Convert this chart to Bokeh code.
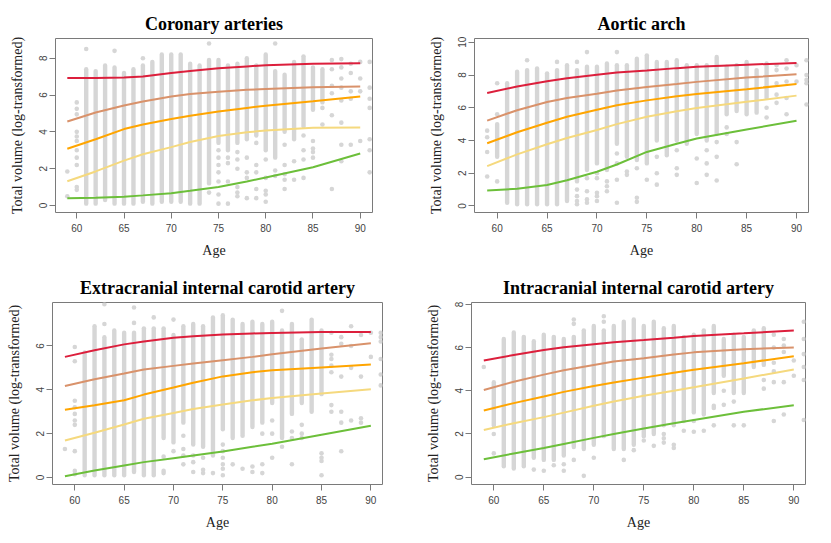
from bokeh.plotting import figure
from bokeh.layouts import column, row
from bokeh.models import FixedTicker, Range1d
from bokeh.embed import file_html
from bokeh.resources import INLINE

# ---------------- data ----------------
CURVE_AGES = [59, 62, 65, 67, 70, 72, 75, 78, 80, 85, 90]
X_TICKS = [60, 65, 70, 75, 80, 85, 90]
CURVE_COLORS = ["#dc1f3c", "#d9926b", "#ffa500", "#f5d97e", "#6cbf3a"]
POINT_COLOR = "#d6d6d6"

# Coronary arteries
COR_CURVES = [
    [6.92, 6.92, 6.95, 7.00, 7.20, 7.30, 7.45, 7.55, 7.62, 7.70, 7.73],
    [4.56, 5.05, 5.43, 5.65, 5.92, 6.05, 6.18, 6.28, 6.33, 6.42, 6.46],
    [3.08, 3.60, 4.15, 4.40, 4.70, 4.88, 5.10, 5.30, 5.42, 5.66, 5.92],
    [1.32, 1.85, 2.44, 2.78, 3.17, 3.45, 3.78, 3.98, 4.07, 4.22, 4.23],
    [0.40, 0.42, 0.48, 0.55, 0.67, 0.80, 1.00, 1.30, 1.52, 2.08, 2.82],
]
COR_SEG = [(61, 0.1, 7.4), (62, 0.1, 7.3), (63, 0.3, 7.6), (64, 0.1, 7.5), (65, 0.1, 7.2),
           (66, 0.1, 7.4), (67, 0.2, 7.6), (68, 0.1, 7.8), (69, 0.2, 8.2), (70, 0.2, 8.2),
           (71, 0.2, 8.2), (72, 0.1, 7.7), (73, 0.1, 7.6), (74, 1.2, 7.9), (75, 3.4, 7.9),
           (76, 3.0, 7.6), (77, 3.4, 7.7), (78, 3.6, 8.0), (79, 3.8, 7.6), (80, 3.0, 8.2),
           (81, 2.6, 7.3), (82, 4.0, 7.1), (83, 3.6, 7.8), (84, 4.3, 8.1), (85, 5.2, 7.5),
           (86, 5.6, 7.4)]
COR_PTS = [(59, [1.85, 0.5]),
           (60, [5.6, 5.25, 4.95, 4.0, 3.75, 3.5, 3.0, 2.6, 2.2, 1.0, 0.85]),
           (61, [8.5]), (64, [8.4]), (67, [8.0]), (74, [8.8, 0.7]),
           (75, [3.0, 2.6, 2.2, 1.8, 1.3, 0.6, 0.1]), (76, [2.6, 2.3, 1.3, 0.1]),
           (77, [2.9, 2.5, 2.0, 1.0, 0.7, 0.5]), (78, [2.6, 1.8, 1.5, 0.4]),
           (79, [3.4, 2.2, 1.8, 0.9, 0.4]), (80, [2.5, 1.5, 0.8, 0.6, 0.2]),
           (81, [8.8, 1.9, 1.6]), (82, [3.3, 2.2, 1.7, 1.4, 0.9]), (83, [2.4, 1.4]),
           (84, [3.8, 3.0, 2.5, 1.5]), (85, [3.5, 3.1, 2.9, 2.6]), (86, [5.3, 4.4]),
           (87, [7.9, 7.4, 6.5, 6.1, 4.9, 0.9]), (88, [7.95, 7.5, 6.9, 6.4, 5.7, 4.5, 3.3, 2.4]),
           (89, [7.7, 7.2, 6.2, 5.8, 3.3]), (90, [7.8, 6.9, 6.2, 3.5]),
           (91, [7.8, 6.4, 5.8, 5.3, 3.6, 3.0, 1.8])]

# Aortic arch
AOR_CURVES = [
    [6.90, 7.30, 7.62, 7.80, 8.02, 8.15, 8.28, 8.42, 8.50, 8.63, 8.74],
    [5.21, 5.85, 6.35, 6.60, 6.85, 7.05, 7.26, 7.45, 7.58, 7.84, 8.04],
    [3.83, 4.50, 5.08, 5.45, 5.88, 6.15, 6.45, 6.70, 6.84, 7.13, 7.45],
    [2.43, 3.15, 3.77, 4.15, 4.64, 5.00, 5.45, 5.78, 5.98, 6.36, 6.74],
    [0.94, 1.05, 1.28, 1.57, 2.09, 2.53, 3.30, 3.80, 4.12, 4.67, 5.21],
]
AOR_SEG = [(60, 3.0, 5.0), (61, 0.2, 7.5), (62, 0.1, 8.2), (63, 0.1, 8.3), (64, 0.1, 8.4),
           (65, 0.1, 8.1), (66, 0.1, 8.3), (67, 0.3, 8.6), (68, 1.5, 8.3), (69, 2.2, 8.5),
           (70, 2.6, 8.5), (71, 2.2, 8.7), (72, 3.8, 8.6), (73, 3.0, 8.6), (74, 2.8, 9.0),
           (75, 2.6, 9.2), (76, 4.0, 8.8), (77, 3.1, 8.8), (78, 4.0, 8.9), (79, 3.8, 8.6),
           (80, 4.4, 8.6), (81, 4.0, 8.6), (82, 4.4, 9.1), (83, 5.6, 8.5), (84, 5.8, 8.6),
           (85, 5.6, 8.8), (86, 5.7, 8.3), (87, 6.6, 8.7)]
AOR_PTS = [(59, [4.6, 4.2, 3.3, 1.8]), (60, [7.5, 5.6, 1.5]), (63, [8.9]), (66, [8.8]),
           (68, [8.8, 1.0, 0.6, 0.3, 0.1]), (69, [9.4, 1.7, 0.9, 0.4, 0.2]),
           (70, [2.0, 1.7, 0.8, 0.6, 0.3]), (71, [1.5, 1.2, 0.9]),
           (72, [9.4, 3.2, 2.6, 1.6, 0.2]), (73, [2.1, 1.9]), (74, [2.3, 0.5, 0.25]),
           (75, [1.6]), (76, [3.0, 2.0, 1.3]), (78, [3.4, 2.3, 1.9]), (80, [2.9, 1.4]),
           (81, [3.4, 2.6, 1.9]), (82, [3.9, 3.0, 1.55]), (83, [4.8, 4.4]), (84, [3.9, 2.55]),
           (87, [6.0, 5.4]), (88, [8.6, 8.3, 7.5, 6.8, 6.3]), (89, [8.9, 8.4, 7.6, 6.6, 5.6]),
           (90, [8.6, 7.6]), (91, [8.9, 8.0, 7.7, 7.5, 6.2])]

# Extracranial internal carotid artery
EXT_CURVES = [
    [5.50, 5.80, 6.07, 6.20, 6.37, 6.44, 6.52, 6.57, 6.59, 6.64, 6.64],
    [4.17, 4.48, 4.74, 4.92, 5.09, 5.20, 5.35, 5.50, 5.62, 5.88, 6.12],
    [3.09, 3.29, 3.52, 3.78, 4.10, 4.32, 4.61, 4.80, 4.89, 5.02, 5.15],
    [1.69, 2.04, 2.42, 2.68, 2.94, 3.12, 3.33, 3.52, 3.62, 3.83, 4.02],
    [0.06, 0.32, 0.55, 0.70, 0.88, 1.00, 1.19, 1.40, 1.54, 1.95, 2.36],
]
EXT_SEG = [(61, 0.1, 5.7), (62, 0.1, 6.9), (63, 0.1, 6.4), (64, 0.1, 6.7), (65, 0.1, 6.6),
           (66, 0.25, 6.6), (67, 0.1, 6.8), (68, 0.1, 6.8), (69, 1.8, 6.8), (70, 1.6, 6.5),
           (71, 2.5, 6.9), (72, 1.5, 7.0), (73, 1.4, 6.9), (74, 1.0, 7.3), (75, 2.2, 7.4),
           (76, 1.8, 7.2), (77, 2.0, 7.0), (78, 2.3, 7.1), (79, 2.5, 7.0), (80, 3.4, 7.1),
           (81, 1.8, 6.7), (82, 2.9, 7.0), (83, 3.4, 6.3), (84, 3.0, 7.2), (85, 3.8, 6.7)]
EXT_PTS = [(59, [1.3]), (60, [5.95, 5.3, 3.5, 3.2, 2.9, 2.6, 2.4, 1.2, 0.3, 0.15]),
           (63, [7.9, 7.0]), (66, [7.75, 7.05]), (68, [7.3]), (69, [0.95, 0.3, 0.2]),
           (70, [7.2, 1.2]), (71, [1.9, 1.3, 1.0, 0.6]), (72, [1.0, 0.7, 0.25]),
           (73, [0.9, 0.35, 0.2]), (74, [0.2]), (75, [1.5, 1.2, 0.9, 0.6, 0.4, 0.1]),
           (76, [0.6]), (77, [1.9, 0.4]), (78, [0.5, 0.25]), (79, [2.0, 0.6, 0.2]),
           (80, [2.6, 2.0, 0.9]), (81, [7.6, 1.4]), (82, [2.1, 1.8, 0.6]),
           (83, [2.4, 2.0, 1.8]), (85, [1.1, 0.9, 0.75, 0.1]),
           (86, [6.6, 5.6, 5.4, 5.1, 4.8, 3.3, 3.0]), (87, [6.4, 6.1, 4.6, 3.0, 2.5, 1.2]),
           (88, [6.9, 6.0, 5.0, 2.6]), (89, [6.5, 4.6, 2.7, 2.5]), (90, [6.6, 5.5]),
           (91, [6.6, 6.4, 6.2, 5.4, 4.7, 4.2])]

# Intracranial internal carotid artery
INT_CURVES = [
    [5.40, 5.66, 5.89, 6.02, 6.16, 6.25, 6.35, 6.46, 6.54, 6.66, 6.79],
    [4.04, 4.42, 4.75, 4.95, 5.20, 5.36, 5.51, 5.68, 5.78, 5.93, 6.01],
    [3.09, 3.43, 3.74, 3.95, 4.22, 4.38, 4.61, 4.84, 4.98, 5.28, 5.60],
    [2.18, 2.50, 2.78, 2.99, 3.31, 3.50, 3.77, 4.00, 4.16, 4.57, 4.99],
    [0.83, 1.10, 1.35, 1.54, 1.82, 2.00, 2.25, 2.50, 2.65, 3.03, 3.33],
]
INT_SEG = [(60, 2.4, 4.4), (61, 0.5, 6.4), (62, 0.4, 6.7), (63, 0.5, 6.5), (64, 0.9, 6.3),
           (65, 0.8, 6.6), (66, 0.8, 6.5), (67, 1.0, 6.4), (68, 1.4, 6.5), (69, 1.3, 6.8),
           (70, 1.5, 7.0), (71, 1.9, 6.8), (72, 1.3, 7.0), (73, 1.3, 7.2), (74, 1.5, 7.3),
           (75, 1.9, 7.0), (76, 2.0, 7.2), (77, 2.4, 6.9), (78, 2.4, 7.0), (79, 2.6, 6.5),
           (80, 3.0, 6.6), (81, 2.9, 6.8), (82, 3.9, 7.0), (83, 4.7, 6.4), (84, 3.9, 6.6),
           (85, 3.9, 6.5), (86, 5.1, 6.8), (87, 5.2, 6.9)]
INT_PTS = [(59, [5.1]), (60, [2.0, 1.1]), (64, [0.35]), (65, [0.3]), (66, [0.55]),
           (67, [0.6, 0.3]), (68, [7.3, 7.1, 0.8]), (69, [0.06]), (70, [0.9]),
           (71, [7.45, 7.2]), (73, [0.8]), (74, [1.25]), (75, [1.7]), (76, [1.45]),
           (77, [2.0, 1.8, 1.6]), (78, [1.5, 1.35]), (79, [2.15]), (80, [2.6, 2.1]),
           (81, [2.15]), (82, [3.3, 3.2, 2.4]), (83, [4.0, 3.35]), (84, [3.5, 2.4]),
           (85, [2.4]), (87, [4.5, 4.1]), (88, [6.6, 6.0, 5.3, 4.9, 4.4, 2.6]),
           (89, [6.4, 6.1, 5.8, 4.4, 2.9]), (90, [5.4, 4.7]),
           (91, [7.2, 6.4, 5.7, 5.1, 4.5, 2.65])]

Y_LABEL = "Total volume (log-transformed)"
X_LABEL = "Age"


def make_panel(title, w, h, bl, br, bt, bb, xr, yr, yticks, segs, pts, curves):
    p = figure(width=w, height=h, output_backend="svg", toolbar_location=None,
               x_range=Range1d(*xr), y_range=Range1d(*yr),
               min_border_left=bl, min_border_right=br,
               min_border_top=bt, min_border_bottom=bb)
    p.background_fill_color = "white"
    p.border_fill_color = "white"
    p.outline_line_color = "#7a7a7a"
    p.outline_line_width = 1
    p.xgrid.visible = False
    p.ygrid.visible = False

    p.title.text = title
    p.title.align = "center"
    p.title.text_font = "Liberation Serif"
    p.title.text_font_style = "bold"
    p.title.text_font_size = "18px"
    p.title.text_color = "black"
    p.title.standoff = 9

    for ax in (p.xaxis[0], p.yaxis[0]):
        ax.axis_line_color = None
        ax.major_tick_line_color = "#7a7a7a"
        ax.major_tick_out = 6
        ax.major_tick_in = 0
        ax.minor_tick_line_color = None
        ax.major_label_text_font = "Liberation Sans"
        ax.major_label_text_font_size = "10px"
        ax.major_label_text_color = "#444444"
        ax.axis_label_text_font = "Liberation Serif"
        ax.axis_label_text_font_style = "normal"
        ax.axis_label_text_font_size = "14px"
        ax.axis_label_text_color = "#222222"

    p.xaxis.ticker = FixedTicker(ticks=X_TICKS)
    p.xaxis.axis_label = X_LABEL
    p.xaxis.major_label_standoff = 5
    p.xaxis.axis_label_standoff = 8

    p.yaxis.ticker = FixedTicker(ticks=yticks)
    p.yaxis.axis_label = Y_LABEL
    p.yaxis.major_label_orientation = "vertical"
    p.yaxis.major_label_standoff = 2
    p.yaxis.axis_label_standoff = 12

    sx = [s[0] for s in segs]
    s0 = [s[1] for s in segs]
    s1 = [s[2] for s in segs]
    p.segment(x0=sx, y0=s0, x1=sx, y1=s1, line_color=POINT_COLOR,
              line_width=4.4, line_cap="round")
    px, py = [], []
    for age, ys in pts:
        for yv in ys:
            px.append(age)
            py.append(yv)
    p.scatter(px, py, size=4.6, fill_color=POINT_COLOR, line_color=None)

    for vals, col in zip(curves, CURVE_COLORS):
        p.line(CURVE_AGES, vals, line_color=col, line_width=2)
    return p


p1 = make_panel("Coronary arteries", 415, 270, 55, 43, 38, 58,
                (57.75, 91.3), (-0.38, 9.07), [0, 2, 4, 6, 8],
                COR_SEG, COR_PTS, COR_CURVES)
p2 = make_panel("Aortic arch", 416, 270, 59, 23, 34, 51,
                (57.73, 91.2), (-0.4, 10.23), [0, 2, 4, 6, 8, 10],
                AOR_SEG, AOR_PTS, AOR_CURVES)
p3 = make_panel("Extracranial internal carotid artery", 415, 273, 52, 33, 32, 59,
                (57.74, 91.18), (-0.32, 7.98), [0, 2, 4, 6],
                EXT_SEG, EXT_PTS, EXT_CURVES)
p4 = make_panel("Intracranial internal carotid artery", 416, 273, 56, 26, 32, 55,
                (57.77, 91.17), (-0.34, 8.09), [0, 2, 4, 6, 8],
                INT_SEG, INT_PTS, INT_CURVES)

layout = column(row(p1, p2), row(p3, p4))
open("out.html", "w").write(file_html(layout, INLINE))
